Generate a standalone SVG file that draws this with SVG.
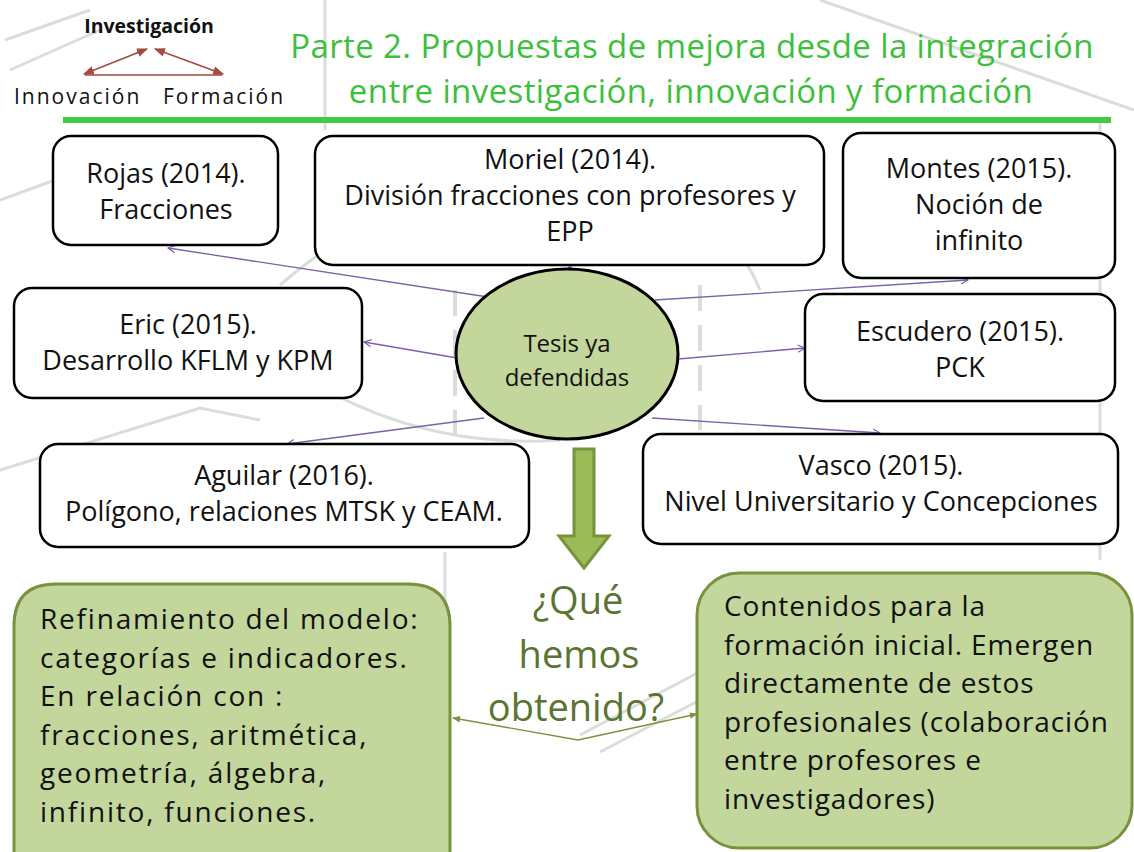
<svg xmlns="http://www.w3.org/2000/svg" width="1134" height="852" viewBox="0 0 1134 852">
<style>
.bg{fill:none;stroke:#dcdcdc;stroke-width:3}
.bgd{fill:none;stroke:#dcdcdc;stroke-width:4;stroke-dasharray:26 14}
.box{fill:#fff;stroke:#000;stroke-width:2.5}
.t{font-family:"Open Sans","Liberation Sans",sans-serif;fill:#111;text-anchor:middle}
.tl{font-family:"Open Sans","Liberation Sans",sans-serif;fill:#111}
.bt{font-size:28px;letter-spacing:1.8px}
.bt2{font-size:28px;letter-spacing:0.9px}
.gbox{fill:#c3d69b;stroke:#77933c;stroke-width:3}
.pc{stroke:#7f5fa8;stroke-width:1.3;fill:none;marker-end:url(#pa)}
.gc{stroke:#77933c;stroke-width:1.3;fill:none;marker-end:url(#ga)}
.rc{stroke:#a34a42;stroke-width:1.6;fill:none}
.ttl{font-size:33px;letter-spacing:0.4px;fill:#3dbf3d}
.q{font-size:38px;fill:#5b7431}
</style>
<defs>
<marker id="pa" viewBox="0 0 10 10" refX="9" refY="5" markerWidth="9" markerHeight="9" markerUnits="userSpaceOnUse" orient="auto"><path d="M1 1 L9 5 L1 9" fill="none" stroke="#7f5fa8" stroke-width="1.3"/></marker>
<marker id="ga" viewBox="0 0 10 10" refX="9" refY="5" markerWidth="8" markerHeight="8" markerUnits="userSpaceOnUse" orient="auto"><path d="M0 1 L10 5 L0 9 z" fill="#77933c"/></marker>
<marker id="ra" viewBox="0 0 10 10" refX="9" refY="5" markerWidth="11" markerHeight="11" markerUnits="userSpaceOnUse" orient="auto-start-reverse"><path d="M0 1 L10 5 L0 9 z" fill="#a34a42"/></marker>
</defs>
<rect width="1134" height="852" fill="#fff"/>
<g id="background">
<path class="bg" d="M10 70 L100 30"/>
<path class="bg" d="M5 40 L90 10"/>
<path class="bg" d="M325 0 L325 130"/>
<path class="bg" d="M820 0 L1134 110"/>
<path class="bg" d="M1100 120 L1100 560"/>
<path class="bgd" d="M455 290 L455 450"/>
<path class="bgd" d="M700 285 L700 430"/>
<path class="bg" d="M0 200 L55 180"/>
<path class="bg" d="M0 470 L200 408 L260 420"/>
<path class="bg" d="M300 375 Q420 450 560 440"/>
<path class="bg" d="M280 285 Q400 180 560 185 Q720 190 760 290"/>
<path class="bg" d="M445 552 L445 640"/>
<path class="bg" d="M580 735 L760 640"/>
<path class="bg" d="M600 752 L700 700"/>
</g>
<g id="legend">
<text class="t" x="149" y="33" font-size="19.5" font-weight="bold">Investigación</text>
<text class="tl" x="14" y="104" font-size="21" letter-spacing="2">Innovación</text>
<text class="tl" x="163" y="104" font-size="21" letter-spacing="2">Formación</text>
<path class="rc" d="M85 75 L222 75"/>
<path class="rc" d="M84 74 L147 49" marker-start="url(#ra)" marker-end="url(#ra)"/>
<path class="rc" d="M155 49 L223 74" marker-start="url(#ra)" marker-end="url(#ra)"/>
</g>
<g id="title">
<text class="t ttl" x="692" y="58">Parte 2. Propuestas de mejora desde la integración</text>
<text class="t ttl" x="691" y="103">entre investigación, innovación y formación</text>
<rect x="63" y="117" width="1048" height="6" fill="#44c944"/>
</g>
<g id="connectors">
<path class="pc" d="M488 297 L168 248"/>
<path class="pc" d="M570 272 L570 265"/>
<path class="pc" d="M655 300 L968 280"/>
<path class="pc" d="M457 358 L364 342"/>
<path class="pc" d="M678 359 L805 348"/>
<path class="pc" d="M484 418 L287 444"/>
<path class="pc" d="M652 418 L880 433"/>
<path class="gc" d="M578 740 L453 718"/>
<path class="gc" d="M578 740 L697 714"/>
</g>
<g id="rojas">
<rect class="box" x="53" y="136" width="225" height="109" rx="18"/>
<text class="t" x="166" y="183" font-size="27">Rojas (2014).</text>
<text class="t" x="166" y="219" font-size="27">Fracciones</text>
</g>
<g id="moriel">
<rect class="box" x="315" y="136" width="509" height="129" rx="18"/>
<text class="t" x="570" y="169" font-size="27">Moriel (2014).</text>
<text class="t" x="570" y="205" font-size="27">División fracciones con profesores y</text>
<text class="t" x="570" y="241" font-size="27">EPP</text>
</g>
<g id="montes">
<rect class="box" x="843" y="133" width="272" height="145" rx="18"/>
<text class="t" x="979" y="178" font-size="27">Montes (2015).</text>
<text class="t" x="979" y="214" font-size="27">Noción de</text>
<text class="t" x="979" y="250" font-size="27">infinito</text>
</g>
<g id="eric">
<rect class="box" x="14" y="288" width="348" height="110" rx="18"/>
<text class="t" x="188" y="334" font-size="27">Eric (2015).</text>
<text class="t" x="188" y="370" font-size="27">Desarrollo KFLM y KPM</text>
</g>
<g id="escudero">
<rect class="box" x="805" y="294" width="310" height="107" rx="18"/>
<text class="t" x="960" y="341" font-size="27">Escudero (2015).</text>
<text class="t" x="960" y="377" font-size="27">PCK</text>
</g>
<g id="aguilar">
<rect class="box" x="40" y="444" width="489" height="103" rx="18"/>
<text class="t" x="284" y="485" font-size="27">Aguilar (2016).</text>
<text class="t" x="284" y="521" font-size="27">Polígono, relaciones MTSK y CEAM.</text>
</g>
<g id="vasco">
<rect class="box" x="643" y="434" width="475" height="110" rx="18"/>
<text class="t" x="881" y="475" font-size="27">Vasco (2015).</text>
<text class="t" x="881" y="511" font-size="27">Nivel Universitario y Concepciones</text>
</g>
<g id="tesis">
<ellipse cx="567" cy="354" rx="111" ry="85" fill="#c3d69b" stroke="#000" stroke-width="3"/>
<text class="t" x="567" y="352" font-size="24">Tesis ya</text>
<text class="t" x="567" y="386" font-size="24">defendidas</text>
</g>
<g id="down-arrow">
<path d="M574 449 L594 449 L594 536 L609 536 L584 568 L559 536 L574 536 Z" fill="#9bbb59" stroke="#77933c" stroke-width="3" stroke-linejoin="miter"/>
</g>
<g id="question">
<text class="t q" x="578" y="614">¿Qué</text>
<text class="t q" x="579" y="668">hemos</text>
<text class="t q" x="576" y="721">obtenido?</text>
</g>
<g id="refinamiento">
<path class="gbox" d="M14 870 L14 626 Q14 584 56 584 L408 584 Q450 584 450 626 L450 870"/>
<text class="tl bt" x="40" y="629">Refinamiento del modelo:</text>
<text class="tl bt" x="40" y="668">categorías e indicadores.</text>
<text class="tl bt" x="40" y="706">En relación con :</text>
<text class="tl bt" x="40" y="745">fracciones, aritmética,</text>
<text class="tl bt" x="40" y="783">geometría, álgebra,</text>
<text class="tl bt" x="40" y="822">infinito, funciones.</text>
</g>
<g id="contenidos">
<rect class="gbox" x="697" y="573" width="435" height="275" rx="42"/>
<text class="tl bt2" x="724" y="616">Contenidos para la</text>
<text class="tl bt2" x="724" y="655">formación inicial. Emergen</text>
<text class="tl bt2" x="724" y="693">directamente de estos</text>
<text class="tl bt2" x="724" y="732">profesionales (colaboración</text>
<text class="tl bt2" x="724" y="770">entre profesores e</text>
<text class="tl bt2" x="724" y="809">investigadores)</text>
</g>
</svg>
